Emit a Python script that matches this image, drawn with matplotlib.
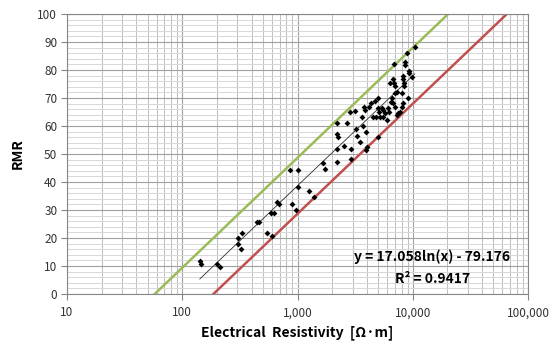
import numpy as np
import matplotlib
matplotlib.use("Agg")
import matplotlib.pyplot as plt
from matplotlib.ticker import FixedLocator, FuncFormatter, NullFormatter

plt.rcParams["font.family"] = ["Noto Sans CJK KR", "DejaVu Sans"]

# measured points: resistivity (ohm-m) and RMR
resistivity = [
    142, 145, 200, 212, 302, 305, 321, 327, 441, 465, 540, 596, 585, 624,
    659, 693, 859, 1007, 899, 962, 1014, 1256, 1397,
    1672, 1740, 2213, 2668, 2213, 2240, 3250, 2510, 2213, 2924, 2200, 2885,
    2850, 3150, 3210, 3475, 3600, 3795, 3846, 3980, 3920, 4190, 4310, 4480,
    4790, 4950, 5010, 5115, 5170, 5430, 5540, 5540, 5730, 6120, 6000, 6240,
    6460, 6550, 7000, 7240, 6760, 7000, 7470, 7240, 7730, 8000, 9130, 8260,
    3720, 3920, 4720, 4950,
    10400, 8830, 6850, 8510, 8600, 9310, 9250, 8150, 8260, 8380, 6760, 6850,
    6330, 7000, 8410, 9770, 8000,
]
rmr = [
    11.9, 10.8, 10.8, 9.8, 19.9, 17.8, 16.0, 21.9, 25.8, 25.8, 21.9, 20.8, 28.8, 28.8,
    33.0, 32.1, 44.3, 44.3, 32.1, 30.0, 38.1, 36.9, 34.8,
    46.9, 44.8, 61.0, 61.0, 57.1, 56.0, 56.4, 52.9, 51.8, 51.8, 47.1, 48.1,
    65.1, 65.4, 58.8, 54.4, 63.3, 66.9, 65.7, 52.6, 51.4, 66.7, 68.1, 63.3,
    63.3, 56.2, 66.3, 65.1, 63.3, 66.3, 65.7, 63.3, 64.5, 66.3, 62.1, 65.1,
    68.7, 69.9, 71.7, 72.3, 68.1, 66.9, 64.5, 63.9, 65.1, 66.9, 69.9, 68.1,
    60.0, 58.0, 69.0, 69.9,
    88.3, 86.0, 82.1, 83.0, 81.8, 79.8, 79.1, 77.9, 76.7, 75.2, 76.7, 75.2,
    75.5, 74.3, 74.3, 77.6, 71.9,
]

# fitted relation and +/- 10 bounds
coef_a = 17.058
coef_b = -79.176
band = 10.0

x_ticks = [10, 100, 1000, 10000, 100000]
y_ticks = list(range(0, 101, 10))

fig = plt.figure(figsize=(5.57, 3.43), dpi=100)
ax = fig.add_axes([0.1203, 0.1429, 0.8277, 0.8163])

ax.set_xscale("log")
ax.set_xlim(10, 100000)
ax.set_ylim(0, 100)

# grid
ax.xaxis.set_major_locator(FixedLocator(x_ticks))
ax.xaxis.set_minor_locator(FixedLocator(
    [m * 10 ** e for e in range(1, 5) for m in range(2, 10)]))
ax.yaxis.set_major_locator(FixedLocator(y_ticks))
ax.yaxis.set_minor_locator(FixedLocator([v for v in range(0, 101, 2) if v % 10]))
ax.grid(which="major", color="#a0a0a0", linewidth=0.8)
ax.grid(which="minor", axis="x", color="#c0c0c0", linewidth=0.75)
ax.grid(which="minor", axis="y", color="#d9d9d9", linewidth=0.75)
ax.set_axisbelow(True)

xs = np.logspace(1, 5, 400)
ax.plot(xs, coef_a * np.log(xs) + coef_b + band, color="#9bbb59", lw=1.8)
ax.plot(xs, coef_a * np.log(xs) + coef_b - band, color="#c0504d", lw=1.8)

xt = np.logspace(np.log10(min(resistivity)), np.log10(max(resistivity)), 100)
ax.plot(xt, coef_a * np.log(xt) + coef_b, color="#303030", lw=0.6)

ax.scatter(resistivity, rmr, s=9, marker="D", color="black", zorder=5, lw=0)

ax.xaxis.set_major_formatter(FuncFormatter(lambda v, p: f"{int(round(v)):,}"))
ax.xaxis.set_minor_formatter(NullFormatter())
ax.tick_params(which="major", length=4, color="#868686", labelsize=8.5,
               labelcolor="#333333", pad=3)
ax.tick_params(axis="x", which="major", pad=5)
ax.tick_params(which="minor", length=0)

for s in ax.spines.values():
    s.set_color("#868686")

ax.set_xlabel("Electrical  Resistivity  [Ω·m]", fontsize=10, fontweight="bold",
              labelpad=4)
ax.set_ylabel("RMR", fontsize=10, fontweight="bold", labelpad=9)

ax.text(0.792, 0.132, "y = 17.058ln(x) - 79.176", transform=ax.transAxes,
        ha="center", va="center", fontsize=10, fontweight="bold")
ax.text(0.792, 0.054, "R² = 0.9417", transform=ax.transAxes,
        ha="center", va="center", fontsize=10, fontweight="bold")

fig.savefig("out.png", dpi=100)
